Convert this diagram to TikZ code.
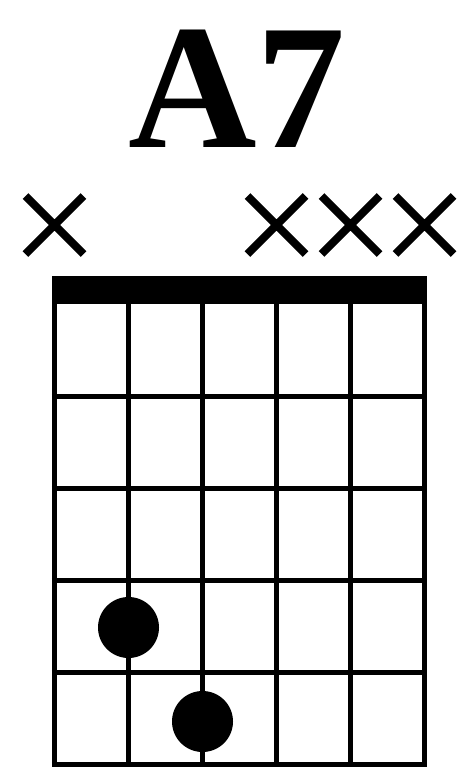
\documentclass[tikz,border=0pt]{standalone}
\usepackage{fontspec}
\setmainfont{Liberation Serif}
\begin{document}
\begin{tikzpicture}[x=1pt,y=-1pt,
  grid line/.style={line width=5.5pt},
  mute/.style={line width=8pt},
  finger/.style={circle,fill=black,minimum size=61pt,inner sep=0pt}]
  \useasboundingbox (0,0) rectangle (470,779);
  % chord name
  \node[anchor=base,inner sep=0pt,font=\fontsize{178}{178}\selectfont\bfseries] (name) at (237,147) {A7};
  % nut
  \fill (51.75,276) rectangle (427.25,304);
  % strings
  \foreach \s in {0,...,5}
    \draw[grid line] (54.5+74*\s,300) -- (54.5+74*\s,767.25);
  % frets
  \foreach \f in {0,...,4}
    \draw[grid line] (51.75,396.5+92*\f) -- (427.25,396.5+92*\f);
  % muted strings
  \foreach \s in {0,3,4,5}
    \draw[mute] (54.5+74*\s-29,196) -- (54.5+74*\s+29,254)
                (54.5+74*\s-29,254) -- (54.5+74*\s+29,196);
  % fingers
  \node[finger] (f2) at (128.5,627.5) {};
  \node[finger] (f3) at (202.5,721.5) {};
\end{tikzpicture}
\end{document}
